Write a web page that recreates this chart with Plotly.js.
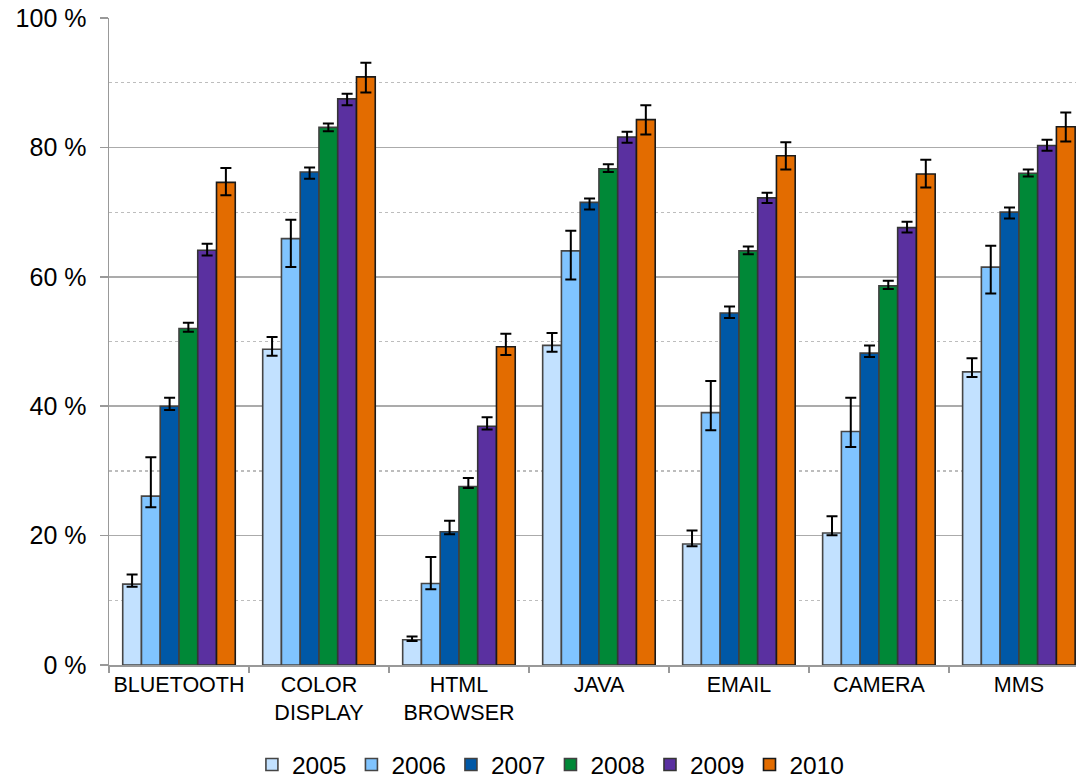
<!DOCTYPE html>
<html>
<head>
<meta charset="utf-8">
<script src="https://cdn.plot.ly/plotly-3.0.1.min.js"></script>
<style>html,body{margin:0;padding:0;background:#fff;}#chart{width:1076px;height:781px;}</style>
</head>
<body>
<div id="chart"></div>
<script>
var categories = ["BLUETOOTH", "COLOR<br>DISPLAY", "HTML<br>BROWSER", "JAVA", "EMAIL", "CAMERA", "MMS"];
var years = ["2005", "2006", "2007", "2008", "2009", "2010"];

var v2005 = [12.5, 48.8, 3.9, 49.4, 18.7, 20.4, 45.3];
var v2006 = [26.1, 65.9, 12.6, 64.0, 39.0, 36.1, 61.5];
var v2007 = [40.0, 76.2, 20.6, 71.5, 54.4, 48.2, 70.0];
var v2008 = [52.0, 83.1, 27.6, 76.7, 64.0, 58.6, 76.0];
var v2009 = [64.1, 87.5, 36.9, 81.6, 72.2, 67.6, 80.3];
var v2010 = [74.6, 90.9, 49.2, 84.3, 78.7, 75.9, 83.2];

var up2005 = [1.5, 1.9, 0.5, 1.9, 2.1, 2.6, 2.1];
var up2006 = [6.0, 2.9, 4.1, 3.1, 4.9, 5.2, 3.3];
var up2007 = [1.3, 0.7, 1.7, 0.6, 1.0, 1.2, 0.7];
var up2008 = [0.9, 0.6, 1.3, 0.7, 0.7, 0.8, 0.6];
var up2009 = [1.0, 0.8, 1.4, 0.8, 0.8, 0.9, 0.9];
var up2010 = [2.2, 2.2, 2.0, 2.2, 2.1, 2.2, 2.2];

var dn2005 = [0.4, 1.0, 0.2, 1.0, 0.35, 0.35, 0.8];
var dn2006 = [1.7, 4.4, 0.9, 4.4, 2.7, 2.4, 4.1];
var dn2007 = [0.6, 1.05, 0.4, 1.1, 0.75, 0.6, 1.0];
var dn2008 = [0.5, 0.6, 0.25, 0.5, 0.5, 0.5, 0.5];
var dn2009 = [0.8, 1.0, 0.5, 0.9, 0.8, 0.75, 0.8];
var dn2010 = [2.0, 2.4, 1.3, 2.3, 2.1, 2.1, 2.3];

var yTicks = [0, 20, 40, 60, 80, 100];

var values = [v2005, v2006, v2007, v2008, v2009, v2010];
var ups = [up2005, up2006, up2007, up2008, up2009, up2010];
var dns = [dn2005, dn2006, dn2007, dn2008, dn2009, dn2010];
var colors = ["#c2e1ff", "#80c4ff", "#0058a6", "#008837", "#5a30a0", "#e36c00"];
var outlines = ["#454545", "#454545", "#404040", "#404040", "#353535", "#1a1a1a"];

var traces = years.map(function (yr, i) {
  return {
    type: "bar",
    name: yr,
    x: categories,
    y: values[i],
    marker: { color: colors[i], line: { color: outlines[i], width: 1.6 } },
    error_y: {
      type: "data", symmetric: false,
      array: ups[i], arrayminus: dns[i],
      color: "#000", thickness: 2, width: 5.5
    },
    hoverinfo: "skip"
  };
});

var layout = {
  width: 1076, height: 781,
  margin: { l: 109, r: 0, t: 18, b: 116, pad: 0, autoexpand: false },
  paper_bgcolor: "#fff", plot_bgcolor: "#fff",
  font: { family: "Liberation Sans, Arial, sans-serif", color: "#000" },
  barmode: "group",
  bargap: 0.196,
  bargroupgap: 0,
  showlegend: true,
  legend: {
    orientation: "h", x: 0.457, xanchor: "center", y: -0.154, yanchor: "middle",
    font: { size: 24.5, color: "#000" }, traceorder: "normal", itemwidth: 30
  },
  xaxis: {
    type: "category",
    range: [-0.5, 6.408],
    showline: true, linecolor: "#999", linewidth: 1.5,
    ticks: "outside", tickson: "boundaries", ticklen: 6, tickcolor: "#999", tickwidth: 1.5,
    showgrid: false,
    tickangle: 0,
    tickfont: { size: 21.5, color: "#000" },
    fixedrange: true
  },
  yaxis: {
    range: [0, 100],
    tickvals: yTicks,
    ticktext: yTicks.map(function (t) { return t + " %"; }),
    showline: true, linecolor: "#999", linewidth: 1.5,
    ticks: "outside", ticklen: 8, tickcolor: "#999", tickwidth: 1.5,
    showgrid: true, gridcolor: "#ababab", gridwidth: 1.5,
    minor: { dtick: 10, tick0: 0, showgrid: true, gridcolor: "#bdbdbd", griddash: "dot", gridwidth: 1.2 },
    zeroline: false,
    tickfont: { size: 25, color: "#000" },
    ticklabelstandoff: 8,
    fixedrange: true
  }
};

Plotly.newPlot("chart", traces, layout, { staticPlot: true, displayModeBar: false });
</script>
</body>
</html>
